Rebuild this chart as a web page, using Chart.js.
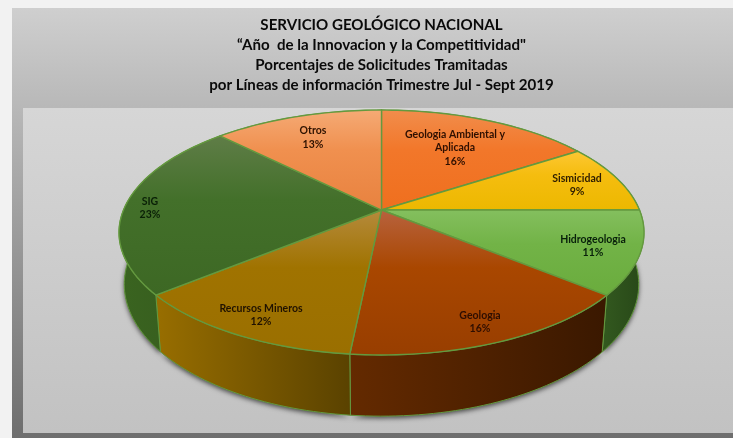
<!DOCTYPE html>
<html>
<head>
<meta charset="utf-8">
<style>html,body{margin:0;padding:0;background:#f2f2f2}canvas{display:block}</style>
<script src="https://cdn.jsdelivr.net/npm/chart.js@4"></script>
</head>
<body>
<canvas id="c" width="733" height="438"></canvas>
<script>
const titleLines = [
  'SERVICIO GEOLÓGICO NACIONAL',
  '“Año  de la Innovacion y la Competitividad"',
  'Porcentajes de Solicitudes Tramitadas',
  'por Líneas de información Trimestre Jul - Sept 2019'
];
const categories = ['Geologia Ambiental y Aplicada','Sismicidad','Hidrogeologia','Geologia','Recursos Mineros','SIG','Otros'];
// shares; they round to the printed percentages
const shares = [15.8, 9.2, 11, 15.6, 12.45, 23.45, 12.5];

// label text broken as in the picture, and where each label sits
const labelLines = [['Geologia Ambiental y','Aplicada'],['Sismicidad'],['Hidrogeologia'],['Geologia'],['Recursos Mineros'],['SIG'],['Otros']];
const labelCentres = [[455,148],[577,185],[593,246],[480,322],[261,315],[150,208],[313,137.5]];
const labelColours = ['#2e0f00','#2e1d00','#08200a','#2e0e00','#201200','#0a2007','#2e1200'];

// face shading: near the far edge, middle, near edge
const faceA = ['#f18d4c','#fdc733','#84bf5e','#b8623e','#b58a3c','#5f7d47','#f5aa75'];
const faceB = ['#f2772a','#f5bd0f','#72b347','#a94700','#a07300','#43702a','#f0904f'];
const faceC = ['#ef6f1e','#ecb800','#6aac3d','#983e00','#9a6f00','#3d6824','#e8823f'];
// wall shading: left to right
const wallA = ['#a04c10','#a07c00','#33591f','#642a00','#986e00','#3a6420','#a0582a'];
const wallB = ['#a04c10','#a07c00','#274718','#3a1800','#5a4200','#35591d','#a0582a'];

const rimColour = '#64993f';
const K = 0.1837;   // perspective strength of the tilted disc
const stretchX = 2.53, stretchY = 1.16, depth = 0.49, footShrink = 0.98;

function projector(arc) {
  const A = arc.outerRadius * stretchX, B = arc.outerRadius * stretchY, D = arc.outerRadius * depth;
  return function (angle, r, low) {
    const u = Math.cos(angle) * r, v = -Math.sin(angle) * r, w = 1 + K * v;
    const s = low ? footShrink : 1;
    return [arc.x + s * A * u / w, arc.y - B * v / w + (low ? D / w : 0)];
  };
}
function rimPoints(arc, p, low) {
  const n = Math.max(8, Math.ceil((arc.endAngle - arc.startAngle) * 40)), pts = [];
  for (let i = 0; i <= n; i++) pts.push(p(arc.startAngle + (arc.endAngle - arc.startAngle) * i / n, 1, low));
  return pts;
}
function trace(ctx, pts) { pts.forEach((q, i) => i ? ctx.lineTo(q[0], q[1]) : ctx.moveTo(q[0], q[1])); }

const background = {
  id: 'background',
  beforeDraw(chart) {
    const ctx = chart.ctx;
    ctx.fillStyle = '#f2f2f2';
    ctx.fillRect(0, 0, 733, 438);
    let g = ctx.createLinearGradient(0, 8, 0, 438);
    g.addColorStop(0, '#cfcfcf'); g.addColorStop(0.23, '#b8b8b8'); g.addColorStop(1, '#6e6e6e');
    ctx.fillStyle = g;
    ctx.fillRect(12, 8, 721, 430);
    g = ctx.createLinearGradient(0, 108, 0, 433);
    g.addColorStop(0, '#d6d6d6'); g.addColorStop(1, '#c2c2c2');
    ctx.fillStyle = g;
    ctx.fillRect(23, 108, 710, 325);
  }
};

const tiltedPie = {
  id: 'tiltedPie',
  beforeDatasetDraw(chart, args) {
    const ctx = chart.ctx, arcs = chart.getDatasetMeta(args.index).data;
    // soft shadow under the whole disc
    ctx.save();
    ctx.shadowColor = 'rgba(0,0,0,0.65)'; ctx.shadowBlur = 5; ctx.shadowOffsetY = 2;
    ctx.fillStyle = '#444';
    ctx.beginPath();
    arcs.forEach(a => trace(ctx, rimPoints(a, projector(a), true)));
    ctx.closePath(); ctx.fill();
    ctx.restore();

    // walls
    arcs.forEach((a, i) => {
      const p = projector(a), top = rimPoints(a, p, false), low = rimPoints(a, p, true);
      const xs = top.concat(low).map(q => q[0]);
      const g = ctx.createLinearGradient(Math.min(...xs), 0, Math.max(...xs), 0);
      g.addColorStop(0, wallA[i]); g.addColorStop(1, wallB[i]);
      ctx.beginPath();
      trace(ctx, top.concat(low.slice().reverse()));
      ctx.closePath();
      ctx.fillStyle = g; ctx.fill();
      ctx.strokeStyle = rimColour; ctx.lineWidth = 1; ctx.stroke();
    });

    // top faces
    arcs.forEach((a, i) => {
      const p = projector(a), rim = rimPoints(a, p, false), c = p(0, 0, false);
      const ys = rim.map(q => q[1]).concat(c[1]);
      const g = ctx.createLinearGradient(0, Math.min(...ys), 0, Math.max(...ys));
      g.addColorStop(0, faceA[i]); g.addColorStop(0.4, faceB[i]); g.addColorStop(1, faceC[i]);
      ctx.beginPath();
      ctx.moveTo(c[0], c[1]);
      rim.forEach(q => ctx.lineTo(q[0], q[1]));
      ctx.closePath();
      ctx.fillStyle = g; ctx.fill();
      ctx.strokeStyle = rimColour; ctx.lineWidth = 1.4; ctx.lineJoin = 'round'; ctx.stroke();
    });
    return false;
  },
  afterDatasetsDraw(chart) {
    const ctx = chart.ctx;
    ctx.save();
    ctx.font = 'bold 10.5px Lato';
    ctx.textAlign = 'center'; ctx.textBaseline = 'middle';
    labelCentres.forEach((pos, i) => {
      const lines = labelLines[i].concat(Math.round(shares[i]) + '%');
      ctx.fillStyle = labelColours[i];
      lines.forEach((t, j) => ctx.fillText(t, pos[0], pos[1] + (j - (lines.length - 1) / 2) * 13.7));
    });
    ctx.restore();
  }
};

new Chart(document.getElementById('c'), {
  type: 'pie',
  data: { labels: categories, datasets: [{ data: shares, backgroundColor: faceB, borderWidth: 0 }] },
  options: {
    responsive: false,
    animation: false,
    events: [],
    layout: { padding: { left: 30, right: 0, top: 0, bottom: 126 } },
    plugins: {
      legend: { display: false },
      tooltip: { enabled: false },
      title: {
        display: true,
        text: titleLines,
        color: '#0a0a0a',
        font: { family: 'Lato', size: 15.1, weight: 'bold', lineHeight: 1.325 },
        padding: { top: 15, bottom: 13 }
      }
    }
  },
  plugins: [background, tiltedPie]
});
</script>
</body>
</html>
